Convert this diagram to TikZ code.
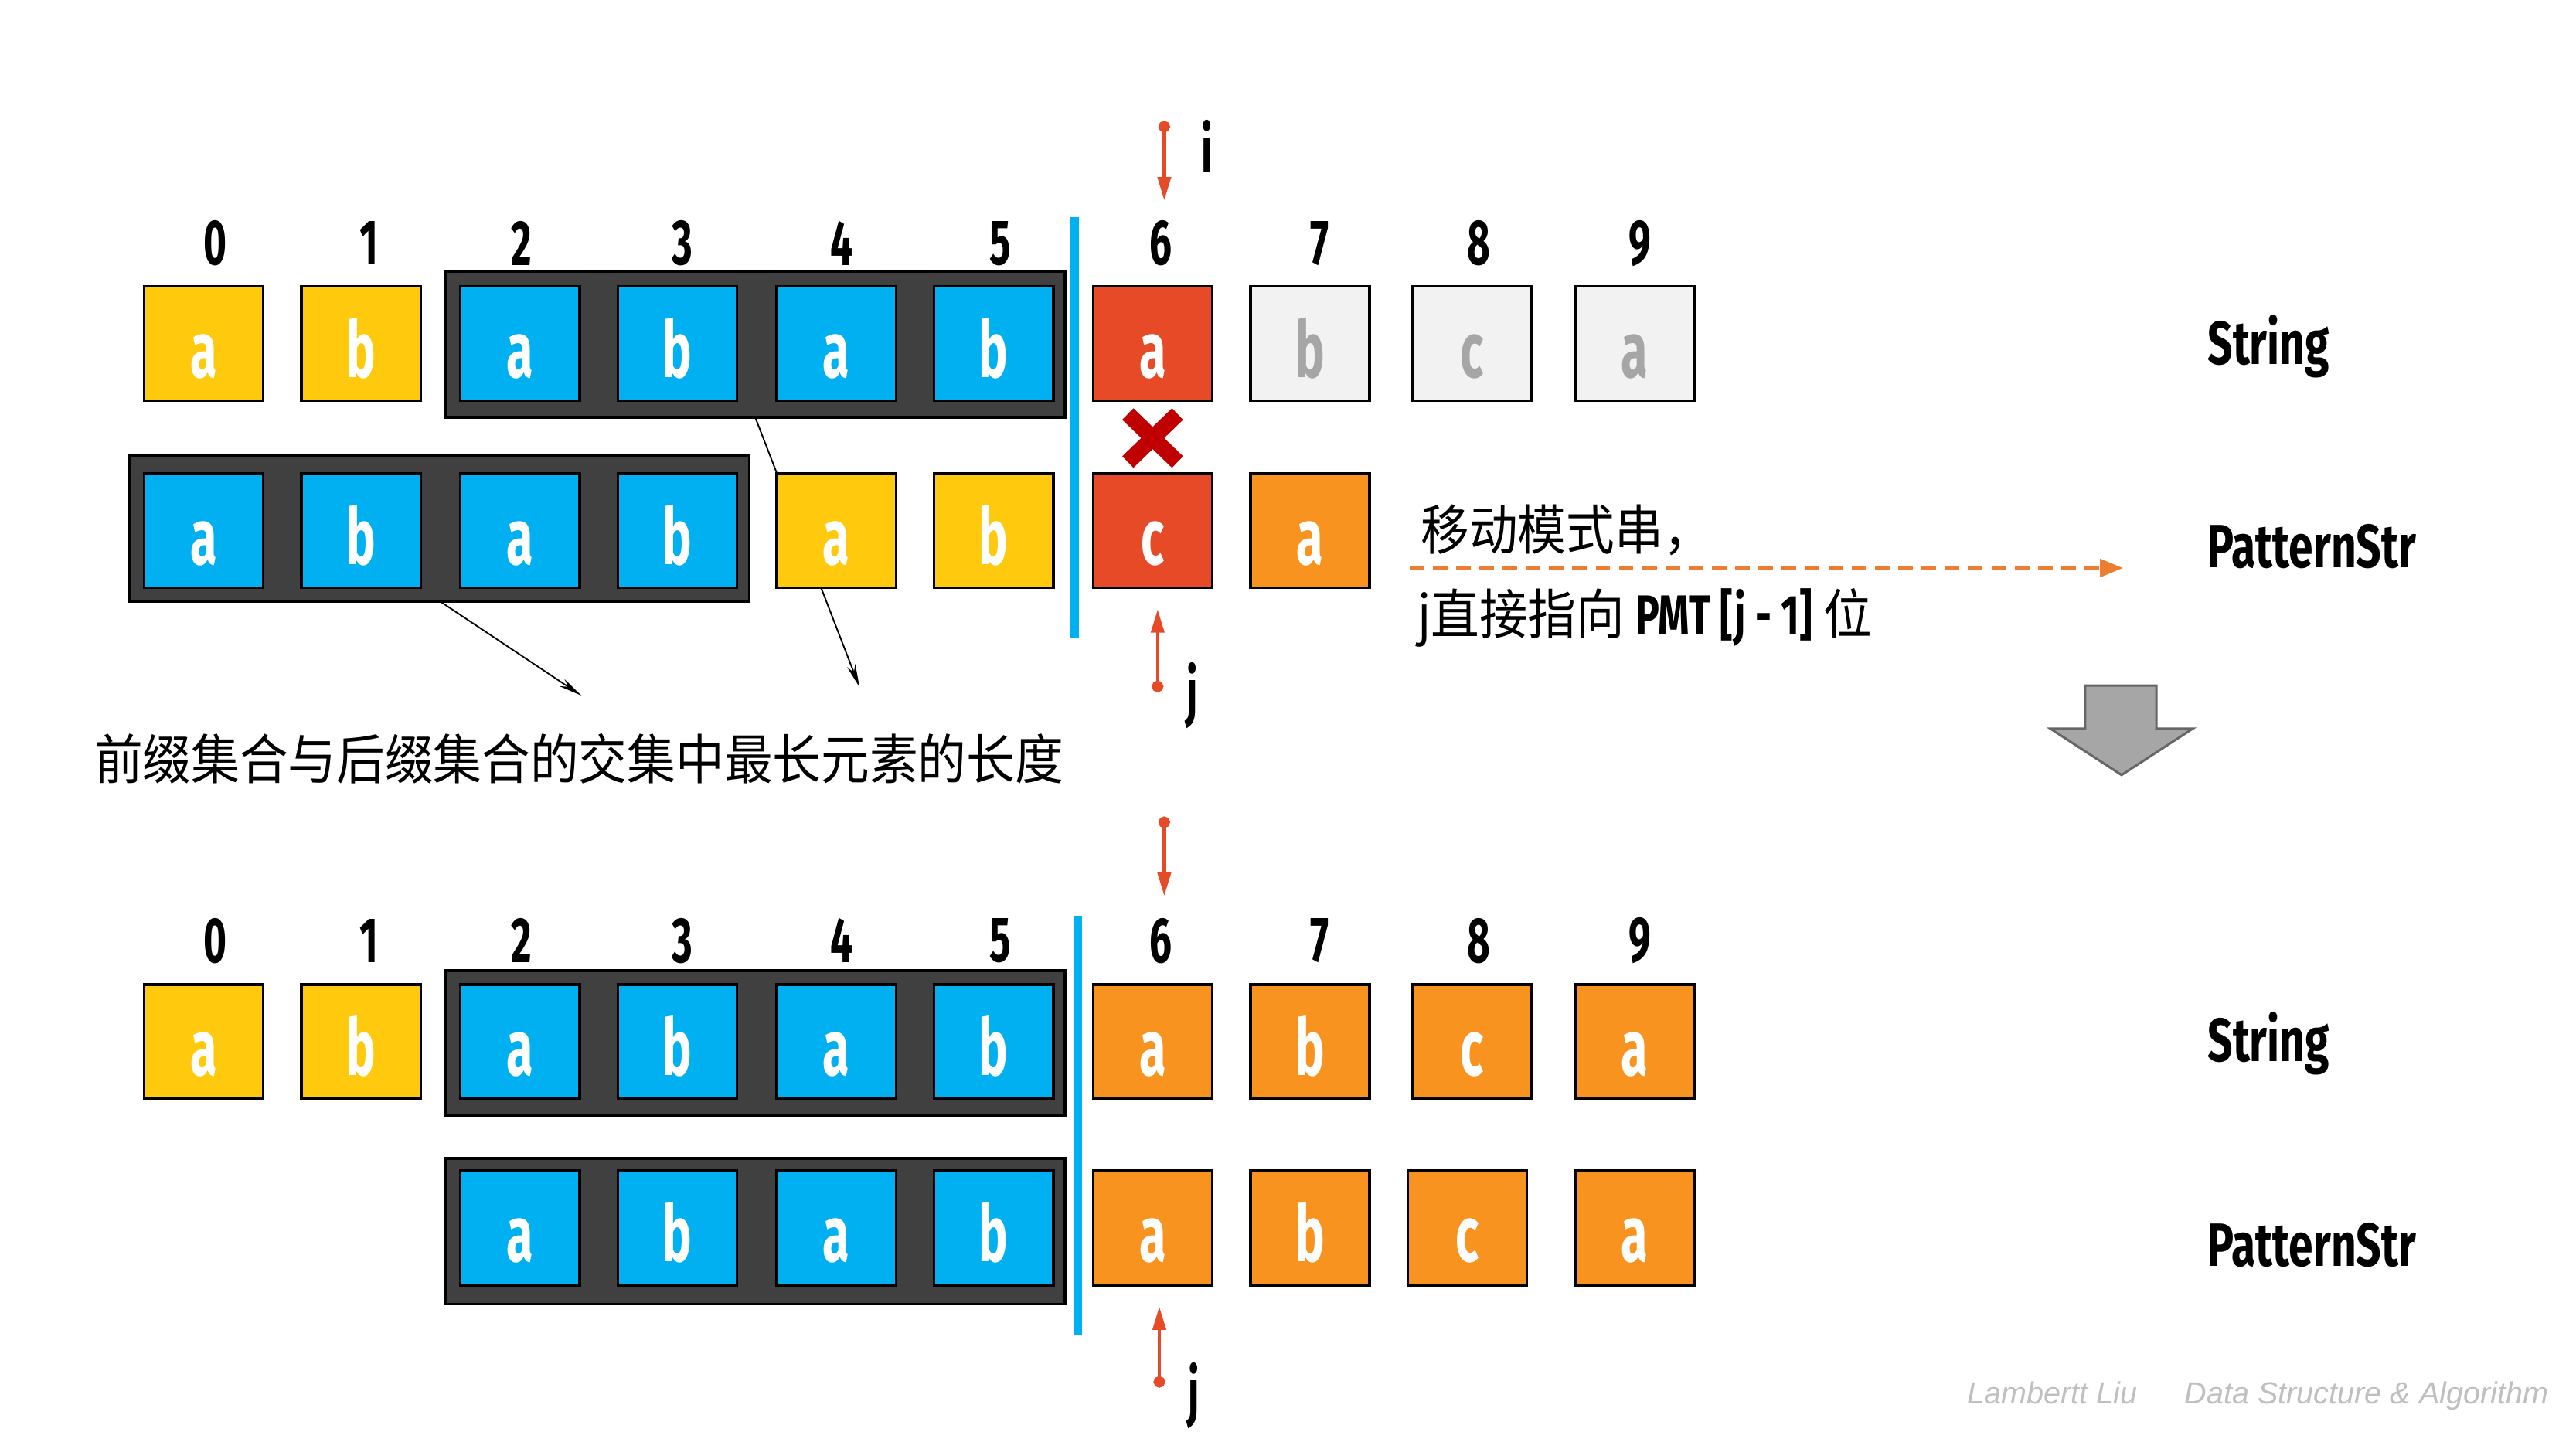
\documentclass[tikz,border=0pt]{standalone}
\usepackage{fontspec}
\usepackage{xcolor}
\usetikzlibrary{arrows.meta}

\setmainfont{Liberation Sans}
\newfontfamily\condfont[FakeStretch=0.62]{Fira Sans}
\newfontfamily\labfont[FakeStretch=0.72]{Fira Sans}
\newfontfamily\cjk[FakeStretch=0.9]{Noto Sans CJK SC}

\definecolor{boxyellow}{HTML}{FFC90E}
\definecolor{boxblue}{HTML}{00B0F0}
\definecolor{boxred}{HTML}{E64A27}
\definecolor{boxorange}{HTML}{F7931E}
\definecolor{boxgray}{HTML}{F2F2F2}
\definecolor{lettergray}{HTML}{A6A6A6}
\definecolor{bgdark}{HTML}{404040}
\definecolor{dashorange}{HTML}{ED7D31}
\definecolor{crossred}{HTML}{C00000}
\definecolor{footgray}{HTML}{BFBFBF}

\begin{document}
\begin{tikzpicture}[
    x=0.02cm, y=-0.02cm,
    every node/.style={align=center, inner sep=0pt, outer sep=0pt},
    chbox/.style={rectangle, draw=black, line width=0.9pt, minimum width=1.44cm, minimum height=1.38cm, text height=0.82cm, text depth=0pt, text=white, font=\condfont\bfseries\fontsize{27}{30}\selectfont},
    yel/.style={chbox, fill=boxyellow},
    blu/.style={chbox, fill=boxblue},
    redc/.style={chbox, fill=boxred},
    org/.style={chbox, fill=boxorange},
    gry/.style={chbox, fill=boxgray, text=lettergray},
    groupbg/.style={rectangle, draw=black, line width=1pt, fill=bgdark, minimum width=7.48cm, minimum height=1.76cm},
    idx/.style={font=\condfont\bfseries\fontsize{22}{24}\selectfont},
    rowlabel/.style={anchor=west, font=\labfont\bfseries\fontsize{21}{24}\selectfont},
    cjknote/.style={anchor=west, font=\cjk\fontsize{18.5}{22}\selectfont},
    divider/.style={draw=boxblue, line width=2.8pt},
    pointer/.style={{Circle[length=4pt]}-{Triangle[length=8pt,width=4.5pt]}, draw=boxred, line width=1.1pt},
    thinarrow/.style={-{Stealth[length=8pt,width=3pt]}, draw=black, line width=0.5pt},
]
\useasboundingbox (0,0) rectangle (1555.4,875);

% Step 1: String row
\node[idx] (n0) at (130,147) {0};
\node[idx] (n1) at (223,147) {1};
\node[idx] (n2) at (315,147) {2};
\node[idx] (n3) at (412,147) {3};
\node[idx] (n4) at (508,147) {4};
\node[idx] (n5) at (604,147) {5};
\node[idx] (n6) at (701,147) {6};
\node[idx] (n7) at (797,147) {7};
\node[idx] (n8) at (893,147) {8};
\node[idx] (n9) at (990,147) {9};

\node[groupbg] (sbg) at (456,208) {};
\node[yel] (s0) at (123,207.5) {a};
\node[yel] (s1) at (218,207.5) {b};
\node[blu] (s2) at (314,207.5) {a};
\node[blu] (s3) at (409,207.5) {b};
\node[blu] (s4) at (505,207.5) {a};
\node[blu] (s5) at (600,207.5) {b};
\node[redc] (s6) at (696,207.5) {a};
\node[gry] (s7) at (791,207.5) {b};
\node[gry] (s8) at (889,207.5) {c};
\node[gry] (s9) at (987,207.5) {a};
\node[rowlabel] (slab) at (1333,209) {String};

% suffix -> common length (runs behind the pattern row)
\coordinate (lenB) at (519,415);
\draw[thinarrow] (sbg.south) -- (lenB);

% Step 1: PatternStr row
\node[groupbg] (pbg) at (265.5,319) {};
\node[blu] (p0) at (123,320.5) {a};
\node[blu] (p1) at (218,320.5) {b};
\node[blu] (p2) at (314,320.5) {a};
\node[blu] (p3) at (409,320.5) {b};
\node[yel] (p4) at (505,320.5) {a};
\node[yel] (p5) at (600,320.5) {b};
\node[redc] (p6) at (696,320.5) {c};
\node[org] (p7) at (791,320.5) {a};
\node[rowlabel] (plab) at (1333,330) {PatternStr};

% mismatch
\draw[crossred, line width=5.5pt] (681,250) -- (711,279) (681,279) -- (711,250);
\draw[divider] (649,131) -- (649,385);

% pointers i / j
\coordinate (itop) at (703,73);
\coordinate (itip) at (703,121);
\draw[pointer] (itop) -- (itip);
\node[idx] (ilab) at (729,88) {i};
\coordinate (jbot) at (699,418);
\coordinate (jtip) at (699,368);
\draw[pointer] (jbot) -- (jtip);
\node[idx] (jlab) at (720,420) {j};

% prefix -> common length
\coordinate (lenA) at (351,420);
\draw[thinarrow] (pbg.south) -- (lenA);
\node[cjknote] (common) at (57,458) {前缀集合与后缀集合的交集中最长元素的长度};

% shift note
\node[cjknote] (shift) at (858,320) {移动模式串，};
\coordinate (dashL) at (851,343);
\coordinate (dashR) at (1282,343);
\draw[draw=dashorange, line width=1.6pt, dash pattern=on 5pt off 3pt, -{Triangle[length=8pt,width=6pt]}] (dashL) -- (dashR);
\node[cjknote] (jump) at (856,373) {j直接指向 {\labfont\bfseries\fontsize{19}{22}\selectfont PMT [j - 1]} 位};

% big down arrow
\draw[draw=black!60, fill=lettergray, line width=0.8pt] (1259,414) -- (1302,414) -- (1302,440) -- (1324,440) -- (1281,468) -- (1238,440) -- (1259,440) -- cycle;

% Step 2: String row
\node[idx] (m0) at (130,568) {0};
\node[idx] (m1) at (223,568) {1};
\node[idx] (m2) at (315,568) {2};
\node[idx] (m3) at (412,568) {3};
\node[idx] (m4) at (508,568) {4};
\node[idx] (m5) at (604,568) {5};
\node[idx] (m6) at (701,568) {6};
\node[idx] (m7) at (797,568) {7};
\node[idx] (m8) at (893,568) {8};
\node[idx] (m9) at (990,568) {9};

\node[groupbg] (tbg) at (456,630) {};
\node[yel] (t0) at (123,629) {a};
\node[yel] (t1) at (218,629) {b};
\node[blu] (t2) at (314,629) {a};
\node[blu] (t3) at (409,629) {b};
\node[blu] (t4) at (505,629) {a};
\node[blu] (t5) at (600,629) {b};
\node[org] (t6) at (696,629) {a};
\node[org] (t7) at (791,629) {b};
\node[org] (t8) at (889,629) {c};
\node[org] (t9) at (987,629) {a};
\node[rowlabel] (tlab) at (1333,630) {String};

% Step 2: PatternStr row
\node[groupbg] (qbg) at (456,743.5) {};
\node[blu] (q2) at (314,741.5) {a};
\node[blu] (q3) at (409,741.5) {b};
\node[blu] (q4) at (505,741.5) {a};
\node[blu] (q5) at (600,741.5) {b};
\node[org] (q6) at (696,741.5) {a};
\node[org] (q7) at (791,741.5) {b};
\node[org] (q8) at (886,741.5) {c};
\node[org] (q9) at (987,741.5) {a};
\node[rowlabel] (qlab) at (1333,752) {PatternStr};

\draw[divider] (651,553) -- (651,806);

\coordinate (i2top) at (703,493);
\coordinate (i2tip) at (703,541);
\draw[pointer] (i2top) -- (i2tip);
\coordinate (j2bot) at (700,838);
\coordinate (j2tip) at (700,789);
\draw[pointer] (j2bot) -- (j2tip);
\node[idx] (j2lab) at (721,843) {j};

% footer
\node[anchor=west, text=footgray, font=\itshape\fontsize{10.5}{12}\selectfont] (foot) at (1188,843) {Lambertt Liu\quad\ \ Data Structure \& Algorithm};

\end{tikzpicture}
\end{document}
